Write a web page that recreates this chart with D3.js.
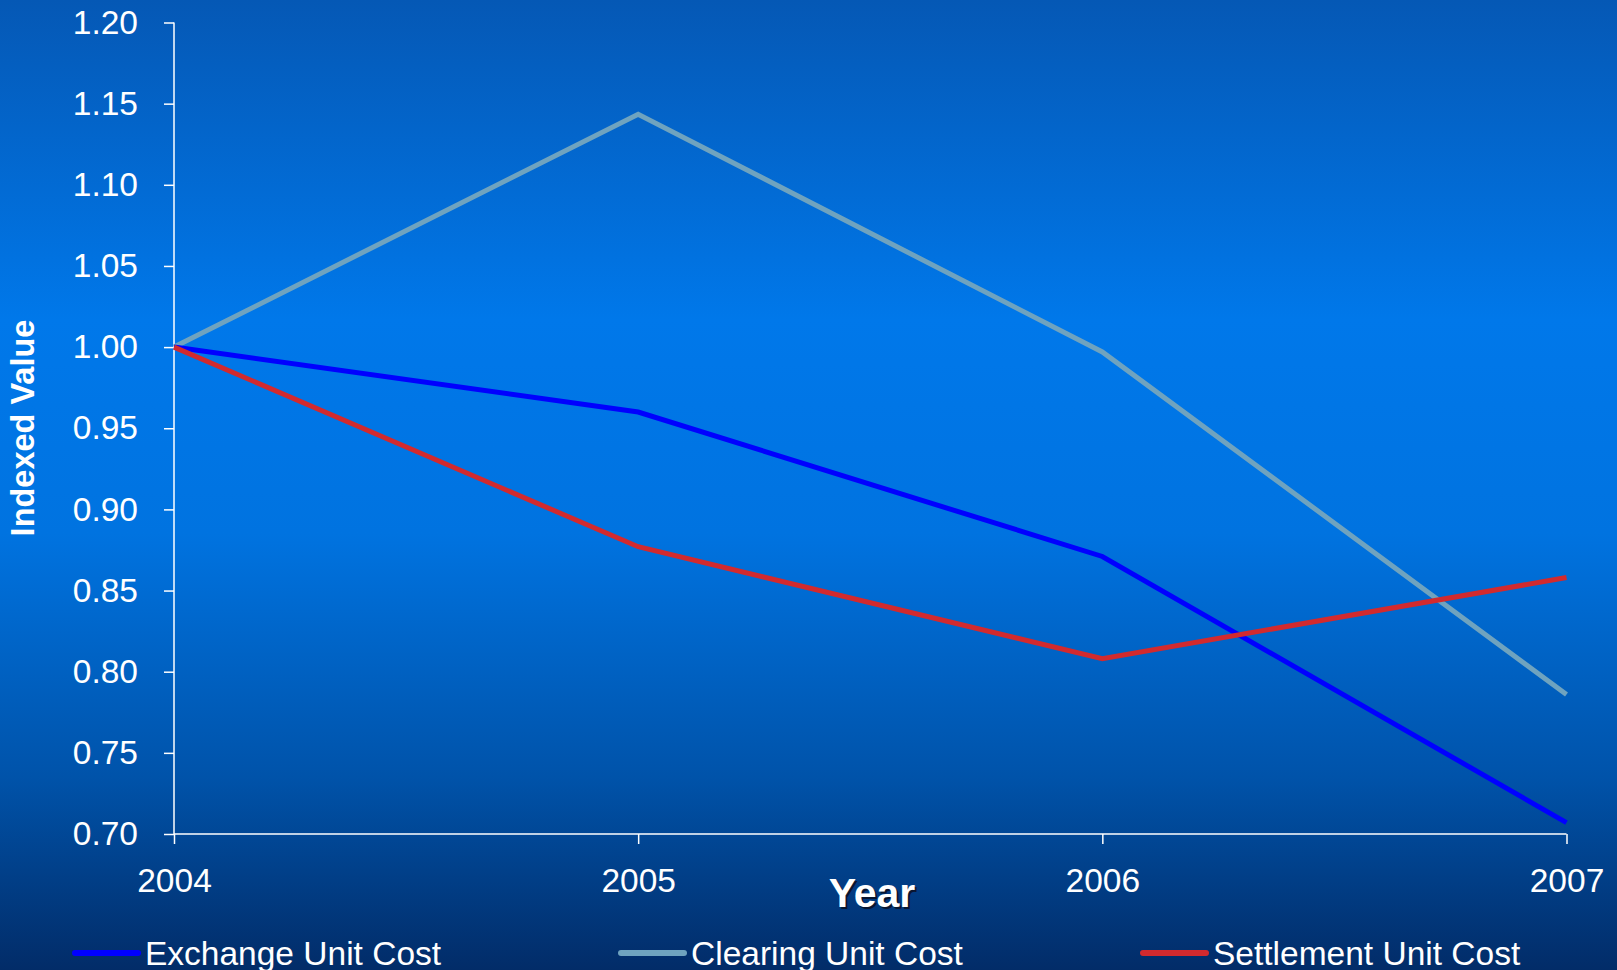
<!DOCTYPE html>
<html><head><meta charset="utf-8">
<script src="https://cdn.jsdelivr.net/npm/d3@7"></script>
<style>html,body{margin:0;padding:0;overflow:hidden;background:#0060c0}</style>
</head><body><svg id="chart" width="1617" height="970"></svg>
<script>
const years = ["2004","2005","2006","2007"];
const exchangeValues = [1.00, 0.960, 0.871, 0.707];
const clearingValues = [1.00, 1.1435, 0.997, 0.786];
const settlementValues = [1.00, 0.877, 0.808, 0.858];
const seriesNames = ["Exchange Unit Cost","Clearing Unit Cost","Settlement Unit Cost"];
const seriesColors = ["#0000ff","#6fa3bf","#d22a2e"];
const yTicks = [0.70,0.75,0.80,0.85,0.90,0.95,1.00,1.05,1.10,1.15,1.20];

const svg = d3.select("#chart");
const W = 1617, H = 970;
const defs = svg.append("defs");
const grad = defs.append("linearGradient").attr("id","bg").attr("x1",0).attr("y1",0).attr("x2",0).attr("y2",1);
[[0,"#0558b5"],[0.33,"#0078ea"],[0.55,"#0073e0"],[0.8,"#0053aa"],[1,"#022c68"]].forEach(([o,c])=>grad.append("stop").attr("offset",o).attr("stop-color",c));
svg.append("rect").attr("width",W).attr("height",H).attr("fill","url(#bg)");

const x = d3.scalePoint().domain(years).range([174, 1566.5]);
const y = d3.scaleLinear().domain([0.70,1.20]).range([834, 22.5]);

const font = "'Liberation Sans', Arial, sans-serif";

// y axis
const yAxis = svg.append("g").attr("transform","translate(174,0)")
  .call(d3.axisLeft(y).tickValues(yTicks).tickFormat(d3.format(".2f")).tickSize(10).tickPadding(26));
// x axis
const xAxis = svg.append("g").attr("transform","translate(0,834)")
  .call(d3.axisBottom(x).tickSize(10).tickPadding(24));
[yAxis,xAxis].forEach(g=>{
  g.select(".domain").attr("stroke","#ffffff").attr("stroke-width",1.5);
  g.selectAll(".tick line").attr("stroke","#ffffff").attr("stroke-width",1.5);
  g.selectAll(".tick text").attr("fill","#ffffff").style("font-family",font).style("font-size","33.5px");
});
xAxis.select(".domain").attr("d","M174,0H1566.5");
yAxis.select(".domain").attr("d","M0,22.5V834");

// lines
const allSeries = [exchangeValues, clearingValues, settlementValues];
const line = d3.line().x((d,i)=>x(years[i])).y(d=>y(d));
// draw order: clearing, exchange, settlement
[1,0,2].forEach(k=>{
  svg.append("path").datum(allSeries[k]).attr("d",line)
    .attr("fill","none").attr("stroke",seriesColors[k]).attr("stroke-width",5)
    .attr("stroke-linejoin","miter");
});

// axis titles
svg.append("text").attr("transform","translate(34,428) rotate(-90)")
  .attr("text-anchor","middle").attr("fill","#ffffff")
  .style("font-family",font).style("font-size","32.5px").style("font-weight","bold")
  .text("Indexed Value");
svg.append("text").attr("x",874).attr("y",909).attr("text-anchor","middle").attr("fill","#0a1630")
  .style("font-family",font).style("font-size","41px").style("font-weight","bold").text("Year");
svg.append("text").attr("x",872).attr("y",907).attr("text-anchor","middle").attr("fill","#ffffff")
  .style("font-family",font).style("font-size","41px").style("font-weight","bold").text("Year");

// legend
const legX = [75, 621, 1143];
seriesNames.forEach((n,i)=>{
  const g = svg.append("g").attr("transform",`translate(${legX[i]},953)`);
  g.append("line").attr("x1",0).attr("x2",63).attr("y1",0).attr("y2",0)
    .attr("stroke",seriesColors[i]).attr("stroke-width",6).attr("stroke-linecap","round");
  g.append("text").attr("x",70).attr("y",12).attr("fill","#ffffff")
    .style("font-family",font).style("font-size","33.5px").text(n);
});
</script></body></html>
